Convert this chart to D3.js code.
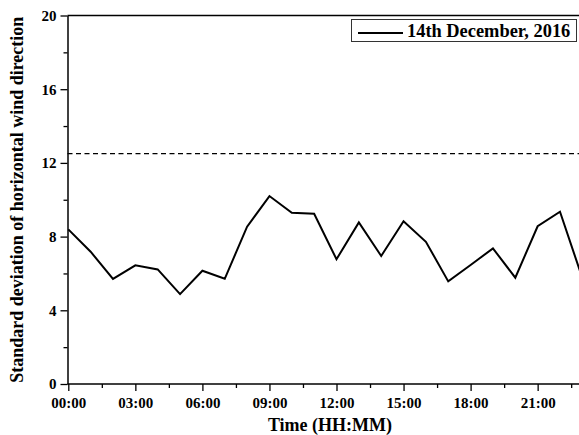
<!DOCTYPE html>
<html><head><meta charset="utf-8">
<script src="https://cdn.jsdelivr.net/npm/d3@7"></script>
<style>body{margin:0;background:#fff}svg{display:block}text{font-family:"Liberation Serif","Times New Roman",serif;font-weight:bold;fill:#000}</style>
</head><body>
<svg id="c" width="579" height="435"></svg>
<script>
const hours = [0,1,2,3,4,5,6,7,8,9,10,11,12,13,14,15,16,17,18,19,20,21,22,23];
const values = [8.39,7.18,5.70,6.44,6.22,4.88,6.15,5.71,8.54,10.20,9.29,9.24,6.77,8.77,6.95,8.83,7.72,5.57,6.46,7.36,5.77,8.56,9.35,5.75];
const thresholdValue = 12.5;
const xTickHours = [0,3,6,9,12,15,18,21];
const xTickLabels = ["00:00","03:00","06:00","09:00","12:00","15:00","18:00","21:00"];
const yTicks = [0,4,8,12,16,20];
const legendLabel = "14th December, 2016";

const svg = d3.select("#c");
const L = 67.5, T = 15.5, B = 384;
const x = d3.scaleLinear().domain([0,24]).range([L + 0.8, L + 0.8 + 24*22.35]);
const y = d3.scaleLinear().domain([0,20]).range([B, T]);

const g = svg.append("g");
g.append("line").attr("x1", L).attr("x2", 579).attr("y1", y(thresholdValue)).attr("y2", y(thresholdValue))
 .attr("stroke","#000").attr("stroke-width",1.2).attr("stroke-dasharray","5,3.5");

g.append("path").datum(hours.map((h,i)=>[h,values[i]]))
 .attr("d", d3.line().x(d=>x(d[0])).y(d=>y(d[1])))
 .attr("fill","none").attr("stroke","#000").attr("stroke-width",2).attr("stroke-linejoin","miter");

g.append("line").attr("x1",L).attr("x2",579).attr("y1",T).attr("y2",T).attr("stroke","#000").attr("stroke-width",1.5);

const xAxis = d3.axisBottom(x).tickValues(xTickHours).tickFormat((d,i)=>xTickLabels[i]).tickSize(7).tickSizeOuter(0);
const xg = svg.append("g").attr("transform",`translate(0,${B})`).call(xAxis);
xg.select(".domain").remove();
xg.selectAll(".tick line").attr("stroke-width",1.3);
xg.selectAll(".tick text").attr("font-size",15).attr("font-family","Liberation Serif").attr("font-weight","bold").attr("dy","0.95em");
svg.append("line").attr("x1",L).attr("x2",579).attr("y1",B).attr("y2",B).attr("stroke","#000").attr("stroke-width",1.5);
const xMinor = d3.axisBottom(x).tickValues(d3.range(1.5,24,3)).tickFormat("").tickSize(4).tickSizeOuter(0);
const xmg = svg.append("g").attr("transform",`translate(0,${B})`).call(xMinor);
xmg.select(".domain").remove();
xmg.selectAll(".tick line").attr("stroke-width",1.3);

const yAxis = d3.axisLeft(y).tickValues(yTicks).tickSize(7).tickSizeOuter(0);
const yg = svg.append("g").attr("transform",`translate(${L},0)`).call(yAxis);
yg.select(".domain").attr("stroke-width",1.5);
yg.selectAll(".tick line").attr("stroke-width",1.3);
yg.selectAll(".tick text").attr("font-size",15).attr("font-family","Liberation Serif").attr("font-weight","bold").attr("x",-11);
const yMinor = d3.axisLeft(y).tickValues(d3.range(2,20,4)).tickFormat("").tickSize(4).tickSizeOuter(0);
const ymg = svg.append("g").attr("transform",`translate(${L},0)`).call(yMinor);
ymg.select(".domain").remove();
ymg.selectAll(".tick line").attr("stroke-width",1.3);

svg.append("text").attr("x",330).attr("y",431).attr("text-anchor","middle").attr("font-size",18).text("Time (HH:MM)");
svg.append("text").attr("transform",`translate(23,${(B+T)/2}) rotate(-90)`).attr("text-anchor","middle").attr("font-size",18).text("Standard deviation of horizontal wind direction");

const lg = svg.append("g");
lg.append("rect").attr("x",351.5).attr("y",19.5).attr("width",225).attr("height",22).attr("fill","#fff").attr("stroke","#333").attr("stroke-width",1);
lg.append("line").attr("x1",358).attr("x2",403).attr("y1",33).attr("y2",33).attr("stroke","#000").attr("stroke-width",2);
lg.append("text").attr("x",407).attr("y",37).attr("font-size",18.4).text(legendLabel);
</script>
</body></html>
